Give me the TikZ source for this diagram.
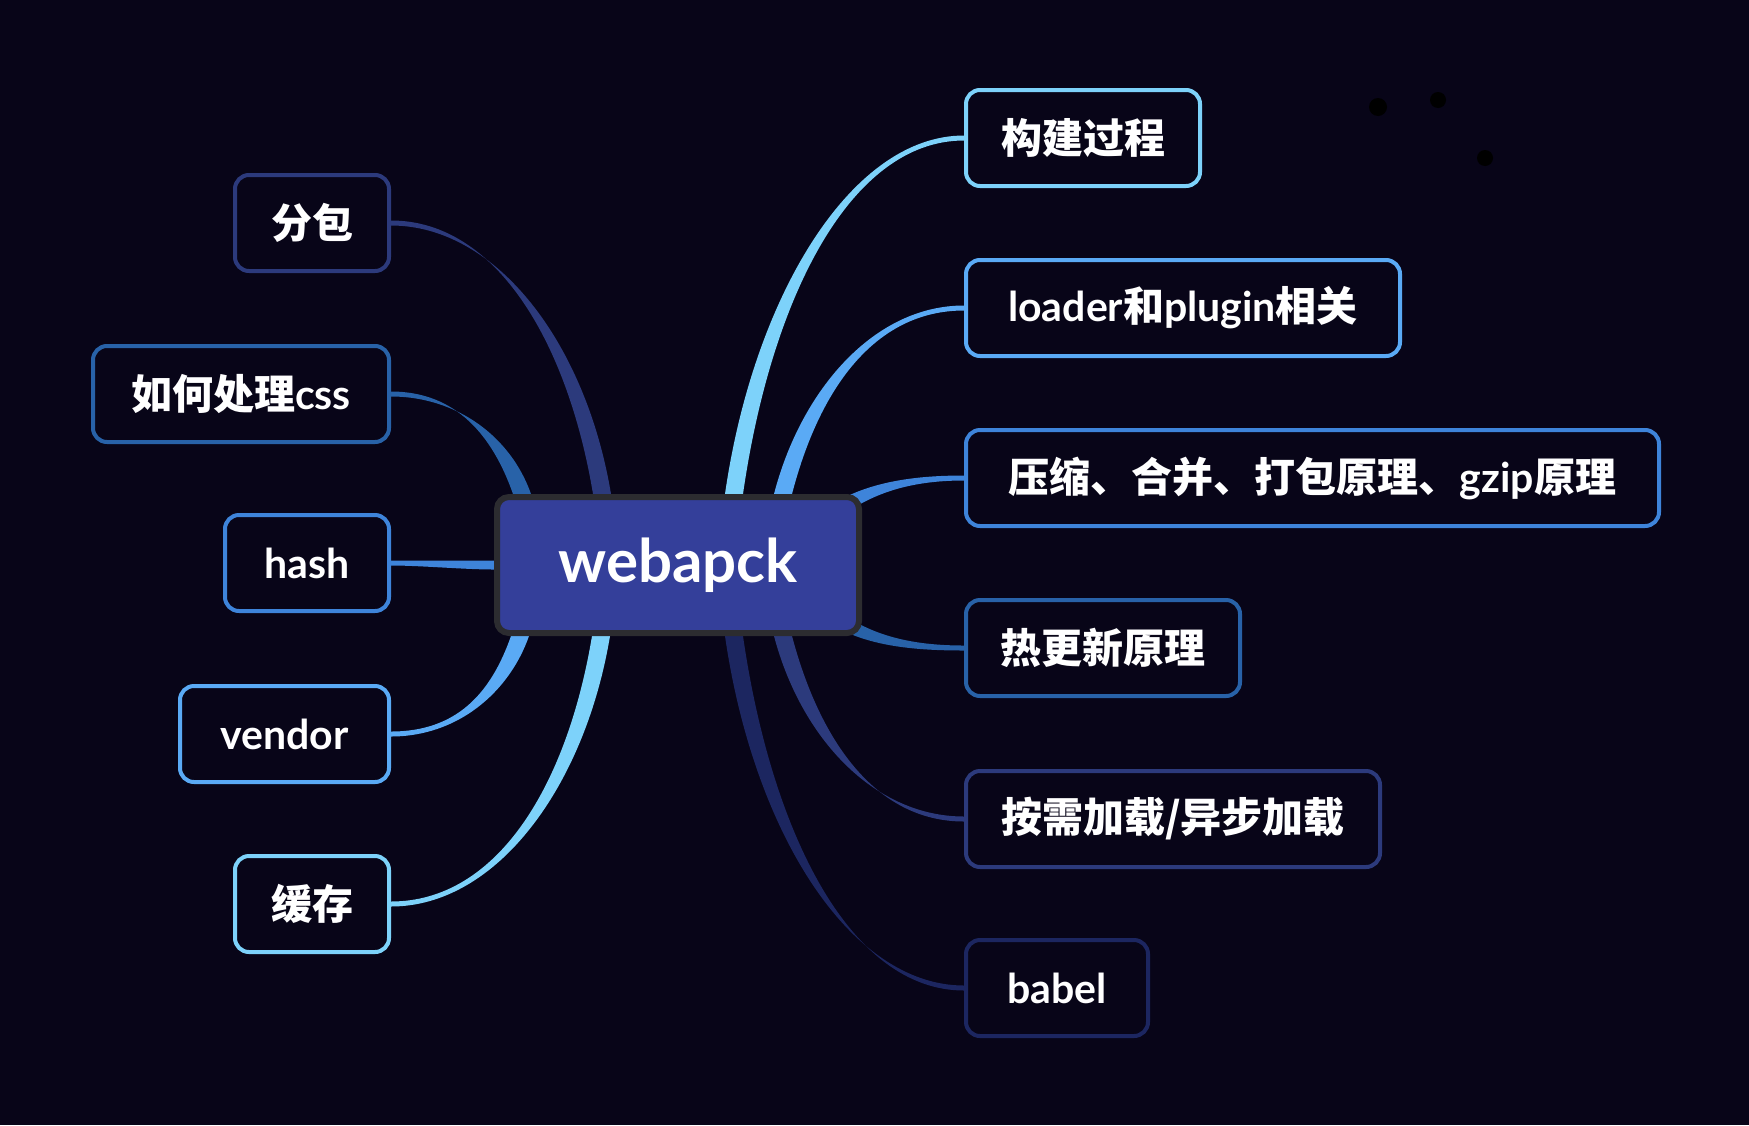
\documentclass[tikz,border=0pt]{standalone}
\usepackage{fontspec}
\usepackage{tikz}
\usetikzlibrary{calc}
\setmainfont{Lato}
\newfontfamily\cjk{Noto Sans CJK SC}
\definecolor{bg}{RGB}{8,5,24}
\definecolor{rootfill}{RGB}{52,63,154}
\definecolor{rootline}{RGB}{44,44,48}
\definecolor{sky}{RGB}{125,210,250}
\definecolor{azure}{RGB}{90,170,245}
\definecolor{cobalt}{RGB}{62,132,218}
\definecolor{steel}{RGB}{40,98,168}
\definecolor{indigo}{RGB}{44,58,124}
\definecolor{navyline}{RGB}{28,38,96}
\pgfdeclarelayer{canvas}
\pgfdeclarelayer{links}
\pgfsetlayers{canvas,links,main}
\tikzstyle{hub}=[rectangle, rounded corners=6pt, fill=rootfill, draw=rootline, line width=3pt, minimum width=181pt, minimum height=68pt, text=white, font=\fontsize{30}{36}\selectfont\bfseries]
\tikzstyle{leaf}=[rectangle, rounded corners=7pt, fill=bg, line width=2pt, minimum height=48pt, inner sep=0pt, text=white, font=\fontsize{20.5}{25}\selectfont\bfseries]
% tapered branch: colour, root anchor, shift, half width, first control, second control, leaf anchor
\newcommand{\twig}[7]{%
  \fill[#1] ($(#2)+(#3)-(#4)$) .. controls +(#5) and +(#6) .. ($(#7)-(0,2.5)$)
    -- ($(#7)+(0,2.5)$) .. controls +(#6) and +(#5) .. ($(#2)+(#3)+(#4)$) -- cycle;}
\begin{document}
\begin{tikzpicture}[x=0.5pt, y=-0.5pt]
                \useasboundingbox (0,0) rectangle (1749,1125);
                \begin{pgfonlayer}{canvas}
                \fill[bg] (0,0) rectangle (1749,1125);
                \fill[black] (1378,107) circle[radius=9];
                \fill[black] (1438,100) circle[radius=8];
                \fill[black] (1485,158) circle[radius=8];
                \end{pgfonlayer}
                \node[hub] (root) at (678,565) {webapck};
                \node[leaf, draw=sky,      minimum width=117pt,   anchor=west] (k1) at (964,138) {\cjk 构建过程};
                \node[leaf, draw=azure,    minimum width=217pt,   anchor=west] (k2) at (964,308) {loader{\cjk 和}plugin{\cjk 相关}};
                \node[leaf, draw=cobalt,   minimum width=346.5pt, anchor=west] (k3) at (964,478) {{\cjk 压缩、合并、打包原理、}gzip{\cjk 原理}};
                \node[leaf, draw=steel,    minimum width=137pt,   anchor=west] (k4) at (964,648) {\cjk 热更新原理};
                \node[leaf, draw=indigo,   minimum width=207pt,   anchor=west] (k5) at (964,819) {\cjk 按需加载/异步加载};
                \node[leaf, draw=navyline, minimum width=91pt,    anchor=west] (k6) at (964,988) {babel};
                \node[leaf, draw=indigo,   minimum width=77pt,    anchor=east] (l1) at (391,223) {\cjk 分包};
                \node[leaf, draw=steel,    minimum width=148pt,   anchor=east] (l2) at (391,394) {{\cjk 如何处理}css};
                \node[leaf, draw=cobalt,   minimum width=82pt,    anchor=east] (l3) at (391,563) {hash};
                \node[leaf, draw=azure,    minimum width=104.5pt, anchor=east] (l4) at (391,734) {vendor};
                \node[leaf, draw=sky,      minimum width=77pt,    anchor=east] (l5) at (391,904) {\cjk 缓存};
                \begin{pgfonlayer}{links}
                \twig{sky}{root.north}{56,0}{9,0}{28,-195}{-114,0}{k1.west}
                \twig{azure}{root.north}{105,0}{9,0}{27,-104}{-90,0}{k2.west}
                \twig{cobalt}{root.east}{-59,-25}{5,7}{40,-45}{-70,0}{k3.west}
                \twig{steel}{root.east}{-59,25}{-5,7}{40,45}{-70,0}{k4.west}
                \twig{indigo}{root.south}{105,0}{9,0}{27,102}{-90,0}{k5.west}
                \twig{navyline}{root.south}{56,0}{9,0}{28,194}{-115,0}{k6.west}
                \twig{indigo}{root.north}{-76,0}{9,0}{-25,-150}{106,0}{l1.east}
                \twig{steel}{root.north}{-156,0}{9,0}{-20,-57}{66,0}{l2.east}
                \twig{cobalt}{root.west}{0,0}{0,4.5}{-30,0}{30,0}{l3.east}
                \twig{azure}{root.south}{-158,0}{9,0}{-20,57}{66,0}{l4.east}
                \twig{sky}{root.south}{-77,0}{9,0}{-25,150}{106,0}{l5.east}
                \end{pgfonlayer}
\end{tikzpicture}
\end{document}
